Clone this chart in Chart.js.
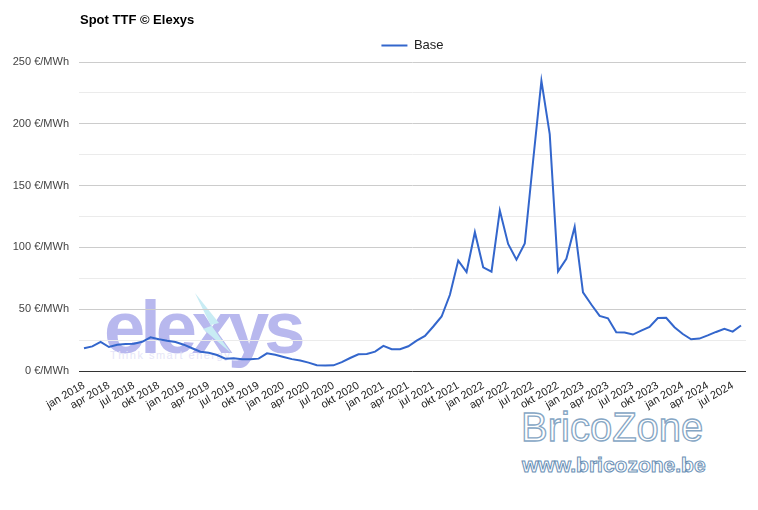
<!DOCTYPE html>
<html>
<head>
<meta charset="utf-8">
<script src="https://cdn.jsdelivr.net/npm/chart.js@4"></script>
<style>
  html, body { margin: 0; padding: 0; background: #fff; }
  #wrap { position: relative; width: 758px; height: 510px; font-family: Arial, "Liberation Sans", sans-serif; overflow: hidden; }
  #chart { position: absolute; left: 0; top: 0; z-index: 2; }
  .title { position: absolute; left: 80px; top: 12px; font-size: 13px; font-weight: bold; color: #000; z-index: 3; }
  .logo { position: absolute; left: 104px; top: 291px; font-size: 74px; line-height: 74px; font-weight: bold; letter-spacing: -5px; color: #b8b8ee; z-index: 1; }
  .bolt { position: absolute; left: 189px; top: 293px; z-index: 1; }
  .tagline { position: absolute; left: 110px; top: 349px; font-size: 11px; letter-spacing: 1.5px; color: #e6e6f8; z-index: 1; }
  .brico { position: absolute; left: 521px; top: 407px; font-size: 40px; line-height: 40px; color: #fff; -webkit-text-stroke: 1.3px #86a6c4; z-index: 1; }
  .brico-url { position: absolute; left: 522px; top: 454px; font-size: 21px; line-height: 21px; font-weight: bold; color: #fff; -webkit-text-stroke: 1px #6a90b6; z-index: 1; }
</style>
</head>
<body>
<div id="wrap">
  <div class="title">Spot TTF © Elexys</div>
  <div class="logo">elexys</div>
  <svg class="bolt" width="46" height="62"><polygon points="6,0 30,30 22,32 42,60 14,36 22,33" fill="#c8ecf4"/></svg>
  <div class="tagline">Think smart energy</div>
  <div class="brico">BricoZone</div>
  <div class="brico-url">www.bricozone.be</div>
  <canvas id="chart" width="758" height="510"></canvas>
</div>
<script>
// monthly spot TTF, jan 2018 .. aug 2024 (€/MWh)
const baseValues = [
    18.4, 19.9, 23.6, 19.4, 21.2, 21.8, 22.0, 23.6, 27.3, 25.7, 24.4, 23.4,
    21.3, 18.4, 15.6, 14.8, 12.9, 10.0, 10.4, 9.6, 9.5, 10.0, 14.3, 13.1,
    11.3, 9.6, 8.5, 6.8, 4.6, 4.5, 4.6, 7.2, 10.5, 13.5, 13.8, 15.7,
    20.3, 17.6, 17.6, 20.0, 24.5, 28.4, 36.0, 44.1, 61.7, 89.3, 80.1, 112.3,
    83.9, 80.4, 129.9, 102.8, 90.1, 103.1, 169.9, 234.8, 191.6, 80.6, 90.8, 116.6,
    63.6, 53.8, 44.6, 42.6, 31.4, 31.1, 29.5, 32.7, 35.7, 42.9, 43.1, 35.4,
    29.9, 25.7, 26.2, 28.8, 31.6, 34.2, 31.9, 36.8
];

const tickLabels = [
    'jan 2018', 'apr 2018', 'jul 2018', 'okt 2018',
    'jan 2019', 'apr 2019', 'jul 2019', 'okt 2019',
    'jan 2020', 'apr 2020', 'jul 2020', 'okt 2020',
    'jan 2021', 'apr 2021', 'jul 2021', 'okt 2021',
    'jan 2022', 'apr 2022', 'jul 2022', 'okt 2022',
    'jan 2023', 'apr 2023', 'jul 2023', 'okt 2023',
    'jan 2024', 'apr 2024', 'jul 2024'
];
const tickStep = 3; // one label every 3 months

Chart.defaults.font.family = 'Arial, "Liberation Sans", sans-serif';

// centre the legend over the plot area instead of the whole canvas
const legendOverPlot = {
    id: 'legendOverPlot',
    afterLayout(chart) {
        const lg = chart.legend, a = chart.chartArea;
        lg.left = a.left;
        lg.right = a.right;
        lg.width = a.right - a.left;
    }
};

const chart = new Chart(document.getElementById('chart'), {
    type: 'line',
    data: {
        datasets: [{
            label: 'Base',
            data: baseValues.map((v, i) => ({ x: i, y: v })),
            borderColor: '#3366cc',
            backgroundColor: '#3366cc',
            borderWidth: 2,
            pointRadius: 0,
            pointStyle: 'line',
            tension: 0
        }]
    },
    plugins: [legendOverPlot],
    options: {
        responsive: false,
        animation: false,
        layout: { padding: { left: 0, right: 12, top: 34, bottom: 99 } },
        plugins: {
            legend: {
                position: 'top',
                labels: {
                    usePointStyle: true,
                    pointStyleWidth: 26,
                    boxHeight: 13,
                    padding: 5,
                    color: '#222',
                    font: { size: 13 }
                }
            },
            tooltip: { enabled: false }
        },
        scales: {
            x: {
                type: 'linear',
                min: -0.6,
                max: 79.6,
                afterBuildTicks: s => { s.ticks = tickLabels.map((t, i) => ({ value: i * tickStep })); },
                afterFit: s => { s.height = 40; },
                ticks: {
                    callback: v => tickLabels[Math.round(v / tickStep)],
                    minRotation: 30,
                    maxRotation: 30,
                    autoSkip: false,
                    color: '#222',
                    font: { size: 11 },
                    padding: 0
                },
                grid: { display: false },
                border: { display: false }
            },
            y: {
                min: 0,
                max: 250,
                afterFit: s => { s.width = 79; },
                ticks: {
                    stepSize: 25,
                    callback: v => (v % 50 === 0 ? v + ' €/MWh' : ''),
                    color: '#444',
                    font: { size: 11 },
                    padding: 10
                },
                grid: {
                    drawTicks: false,
                    color: c => {
                        const v = c.tick ? c.tick.value : 0;
                        if (v === 0) return '#333333';
                        return v % 50 === 0 ? '#cccccc' : '#ebebeb';
                    }
                },
                border: { display: false }
            }
        }
    }
});
</script>
</body>
</html>
